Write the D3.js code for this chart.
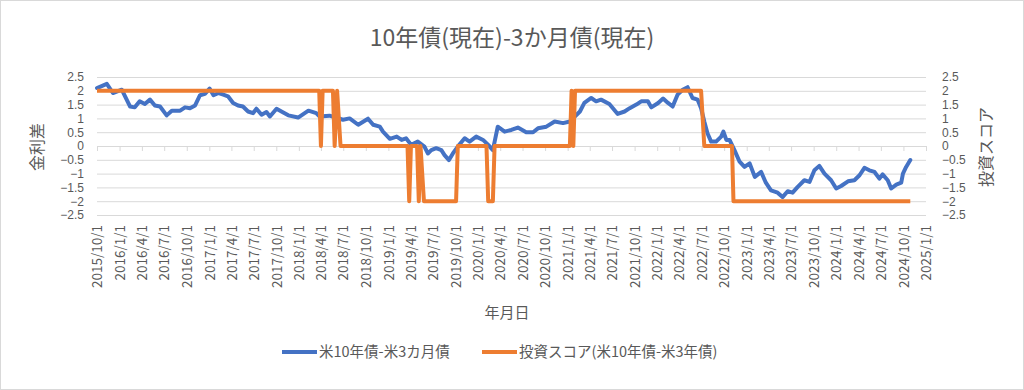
<!DOCTYPE html>
<html>
<head>
<meta charset="utf-8">
<script src="https://cdn.jsdelivr.net/npm/d3@7"></script>
<style>
  body { margin: 0; background: #fff; }
  text { font-family: "Noto Sans CJK JP", "Noto Sans", sans-serif; fill: #595959; }
  .ynum text { font-family: "Liberation Sans", Arial, sans-serif; }
</style>
</head>
<body>
<script>
// 米10年債-米3カ月債 (date, value)
const spreadDates = ["2015-10-01","2015-11-10","2015-12-05","2016-01-10","2016-02-13","2016-03-03","2016-03-23","2016-04-13","2016-05-04","2016-05-24","2016-06-14","2016-07-11","2016-08-01","2016-09-04","2016-09-24","2016-10-14","2016-11-04","2016-11-24","2016-12-14","2017-01-02","2017-01-18","2017-02-08","2017-02-27","2017-03-18","2017-04-08","2017-04-28","2017-05-18","2017-06-08","2017-06-28","2017-07-12","2017-08-02","2017-08-22","2017-09-05","2017-10-02","2017-10-22","2017-11-19","2017-12-29","2018-02-09","2018-03-13","2018-03-26","2018-05-06","2018-06-30","2018-07-27","2018-08-31","2018-10-10","2018-10-31","2018-11-27","2018-12-10","2019-01-07","2019-02-04","2019-02-24","2019-03-14","2019-04-04","2019-05-01","2019-05-28","2019-06-11","2019-06-25","2019-07-15","2019-08-05","2019-08-18","2019-09-05","2019-09-21","2019-10-11","2019-11-08","2019-11-28","2019-12-25","2020-01-22","2020-02-12","2020-03-02","2020-03-22","2020-04-19","2020-05-16","2020-06-12","2020-07-16","2020-08-13","2020-09-02","2020-10-06","2020-11-09","2020-12-13","2021-01-10","2021-02-20","2021-03-10","2021-04-07","2021-04-27","2021-05-17","2021-06-20","2021-07-24","2021-08-21","2021-09-11","2021-10-08","2021-10-28","2021-11-24","2021-12-08","2022-01-05","2022-01-25","2022-02-14","2022-03-05","2022-03-25","2022-04-15","2022-05-05","2022-05-25","2022-06-15","2022-06-29","2022-07-12","2022-07-25","2022-08-09","2022-08-29","2022-09-19","2022-09-28","2022-10-10","2022-10-23","2022-11-12","2022-12-03","2022-12-23","2023-01-13","2023-02-03","2023-03-01","2023-03-20","2023-04-10","2023-05-07","2023-05-27","2023-06-17","2023-07-07","2023-07-27","2023-08-24","2023-09-14","2023-10-04","2023-10-24","2023-11-14","2023-12-11","2024-01-01","2024-01-21","2024-02-18","2024-03-15","2024-04-05","2024-04-25","2024-05-15","2024-06-05","2024-06-25","2024-07-08","2024-07-29","2024-08-12","2024-09-02","2024-09-22","2024-09-29","2024-10-12","2024-10-29"];
const spreadValues = [2.10,2.25,1.92,2.04,1.43,1.40,1.62,1.52,1.68,1.47,1.43,1.11,1.28,1.28,1.40,1.37,1.47,1.84,1.89,2.08,1.84,1.92,1.86,1.80,1.56,1.47,1.43,1.25,1.19,1.35,1.13,1.23,1.07,1.35,1.25,1.11,1.03,1.28,1.19,1.07,1.10,0.95,1.00,0.77,0.99,0.77,0.70,0.52,0.26,0.34,0.22,0.28,0.04,0.16,-0.02,-0.27,-0.15,-0.08,-0.15,-0.33,-0.51,-0.27,-0.02,0.28,0.16,0.34,0.22,0.04,-0.15,0.70,0.52,0.58,0.67,0.50,0.50,0.64,0.70,0.89,0.83,0.89,1.25,1.56,1.74,1.62,1.68,1.52,1.16,1.25,1.37,1.50,1.62,1.62,1.40,1.56,1.72,1.56,1.43,1.86,2.04,2.13,1.74,1.68,1.37,0.89,0.46,0.16,0.16,0.34,0.52,0.22,0.22,-0.15,-0.57,-0.76,-0.63,-1.12,-0.94,-1.33,-1.61,-1.69,-1.85,-1.64,-1.69,-1.49,-1.24,-1.30,-0.88,-0.72,-1.00,-1.24,-1.54,-1.45,-1.28,-1.24,-1.06,-0.79,-0.88,-0.94,-1.18,-1.03,-1.24,-1.54,-1.40,-1.33,-1.00,-0.76,-0.51];

// 投資スコア(米10年債-米3年債): points where the score changes
const scoreDates = ["2015-10-01","2018-03-25","2018-04-01","2018-04-08","2018-05-20","2018-05-27","2018-06-06","2018-06-20","2019-03-20","2019-03-27","2019-04-03","2019-04-28","2019-05-05","2019-05-12","2019-05-26","2019-10-04","2019-10-11","2020-02-05","2020-02-12","2020-03-02","2020-03-09","2021-01-10","2021-01-17","2021-01-24","2021-01-31","2022-06-29","2022-07-12","2022-11-02","2022-11-08","2024-10-29"];
const scoreValues = [2,2,0,2,2,0,2,0,0,-2,0,0,-2,0,-2,-2,0,0,-2,-2,0,0,2,0,2,2,0,0,-2,-2];

const yTicks = [-2.5,-2,-1.5,-1,-0.5,0,0.5,1,1.5,2,2.5];
const xStart = "2015-10-01", xEnd = "2025-01-01";

const titleText = "10年債(現在)-3か月債(現在)";
const leftTitle = "金利差", rightTitle = "投資スコア", xTitle = "年月日";
const seriesNames = ["米10年債-米3カ月債", "投資スコア(米10年債-米3年債)"];
const colors = ["#4472C4", "#ED7D31"];

const W = 1024, H = 390;
const parse = d3.timeParse("%Y-%m-%d");
const fmt = d3.timeFormat("%Y/%-m/%-d");

const spread = spreadDates.map((d, i) => ({date: parse(d), v: spreadValues[i]}));
const score = scoreDates.map((d, i) => ({date: parse(d), v: scoreValues[i]}));

const svg = d3.select("body").append("svg")
  .attr("width", W).attr("height", H);

svg.append("rect")
  .attr("x", 0.5).attr("y", 0.5)
  .attr("width", W - 1).attr("height", H - 1)
  .attr("fill", "#fff").attr("stroke", "#D9D9D9");

const x = d3.scaleTime().domain([parse(xStart), parse(xEnd)]).range([97, 926]);
const y = d3.scaleLinear().domain([-2.5, 2.5]).range([215, 77]);
const y2 = d3.scaleLinear().domain([-2.5, 2.5]).range([215, 77]);

// gridlines
svg.append("g")
  .attr("transform", "translate(97,0)")
  .call(d3.axisLeft(y).tickValues(yTicks).tickSize(-(926 - 97)).tickFormat(""))
  .call(g => g.select(".domain").remove())
  .call(g => g.selectAll("line").attr("stroke", "#D9D9D9"));

// left labels
svg.append("g").attr("class", "ynum")
  .attr("transform", "translate(84,0)")
  .call(d3.axisLeft(y).tickValues(yTicks).tickSize(0).tickPadding(0).tickFormat(d3.format("")))
  .call(g => g.select(".domain").remove())
  .call(g => g.selectAll("text").style("font-size", "12px").attr("fill", "#595959"));

// right labels
svg.append("g").attr("class", "ynum")
  .attr("transform", "translate(942,0)")
  .call(d3.axisRight(y2).tickValues(yTicks).tickSize(0).tickPadding(0).tickFormat(d3.format("")))
  .call(g => g.select(".domain").remove())
  .call(g => g.selectAll("text").style("font-size", "12px").attr("fill", "#595959"));

const xTicks = d3.timeMonth.every(3).range(parse(xStart), d3.timeDay.offset(parse(xEnd), 1));

// x axis line + tick marks at zero
svg.append("g")
  .attr("transform", `translate(0,${y(0)})`)
  .call(d3.axisBottom(x).tickValues(xTicks).tickSize(5).tickSizeOuter(0).tickFormat(""))
  .call(g => g.selectAll("line,path").attr("stroke", "#D9D9D9"));

// x labels at the bottom of the plot
svg.append("g")
  .attr("transform", "translate(0,215)")
  .call(d3.axisBottom(x).tickValues(xTicks).tickSize(0).tickFormat(fmt))
  .call(g => g.select(".domain").remove())
  .call(g => g.selectAll("text")
    .style("font-size", "13.5px")
    .attr("fill", "#595959")
    .attr("transform", "rotate(-90)")
    .attr("x", -10).attr("y", 0).attr("dy", "0.35em")
    .style("text-anchor", "end"));

const line = d3.line().x(d => x(d.date)).y(d => y(d.v));
const line2 = d3.line().x(d => x(d.date)).y(d => y2(d.v));

svg.append("path").datum(spread)
  .attr("d", line).attr("fill", "none")
  .attr("stroke", colors[0]).attr("stroke-width", 4)
  .attr("stroke-linejoin", "round").attr("stroke-linecap", "round");

svg.append("path").datum(score)
  .attr("d", line2).attr("fill", "none")
  .attr("stroke", colors[1]).attr("stroke-width", 4)
  .attr("stroke-linejoin", "round");

// titles
svg.append("text").attr("x", 512).attr("y", 46)
  .attr("text-anchor", "middle").style("font-size", "23px").text(titleText);

svg.append("text")
  .attr("transform", "translate(43,147) rotate(-90)")
  .attr("text-anchor", "middle").style("font-size", "16px").text(leftTitle);

svg.append("text")
  .attr("transform", "translate(992,147) rotate(-90)")
  .attr("text-anchor", "middle").style("font-size", "16px").text(rightTitle);

svg.append("text").attr("x", 507).attr("y", 318)
  .attr("text-anchor", "middle").style("font-size", "15px").text(xTitle);

// legend
const legend = svg.append("g");
const legX = [282, 482];
seriesNames.forEach((name, i) => {
  legend.append("line")
    .attr("x1", legX[i]).attr("x2", legX[i] + 35)
    .attr("y1", 352).attr("y2", 352)
    .attr("stroke", colors[i]).attr("stroke-width", 4);
  legend.append("text")
    .attr("x", legX[i] + 37).attr("y", 352).attr("dy", "0.35em")
    .style("font-size", "14.5px").text(name);
});
</script>
</body>
</html>
